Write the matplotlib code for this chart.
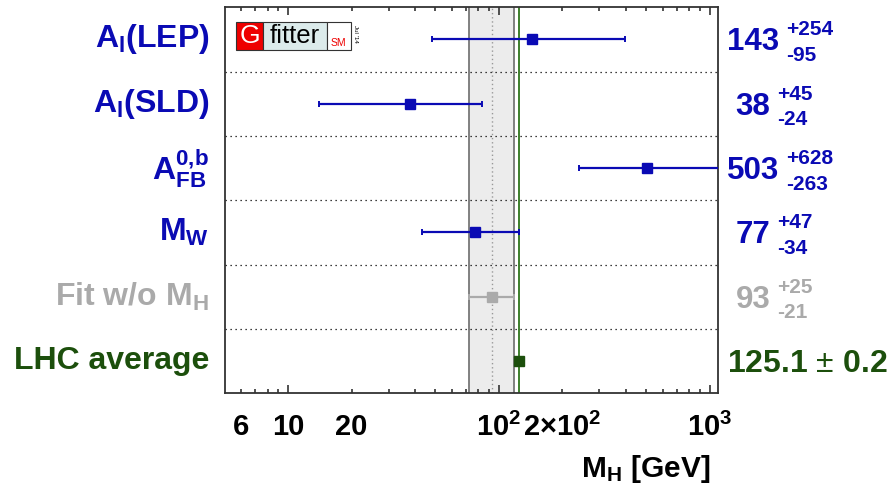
"""
Higgs mass determinations from individual electroweak observables
"""

import matplotlib
matplotlib.use('Agg')
from matplotlib import pyplot as plt
from matplotlib.patches import Rectangle
from matplotlib.ticker import FixedLocator, FuncFormatter

plt.rcParams['font.family'] = ['Liberation Sans', 'DejaVu Sans']
plt.rcParams['mathtext.fontset'] = 'custom'
plt.rcParams['mathtext.rm'] = 'Liberation Sans'
plt.rcParams['mathtext.bf'] = 'Liberation Sans:bold'
plt.rcParams['mathtext.it'] = 'Liberation Sans:italic'

# measurements, top row first
labels = [r'$\mathbf{A_l(LEP)}$', r'$\mathbf{A_l(SLD)}$', r'$\mathbf{A^{0{,}b}_{FB}}$',
          r'$\mathbf{M_W}$', r'$\mathbf{Fit\ w/o\ M_H}$', 'LHC average']
central = [143, 38, 503, 77, 93, 125.1]
err_up = [254, 45, 628, 47, 25, 0.2]
err_down = [95, 24, 263, 34, 21, 0.2]

BLUE = '#0a0ab4'
GREY = '#aaaaaa'
DKGREEN = '#1c4f0c'
colors = [BLUE, BLUE, BLUE, BLUE, GREY, DKGREEN]

# fit without M_H and the LHC value get vertical reference lines
FIT = 4
LHC = 5

# tick labels on the log axis
tick_text = {6: '6', 10: '10', 20: '20', 100: r'$\mathbf{10^2}$',
             200: r'$\mathbf{2{\times}10^2}$', 1000: r'$\mathbf{10^3}$'}

W, H = 895, 493


def fx(px):
	return px / W


def fy(py):
	return 1 - py / H


def draw_logo(fig):
	# little Gfitter badge in the upper left corner
	y0, y1 = fy(50), fy(22.3)
	parts = [(235.7, 263.3, '#ee0000'), (263.3, 326.7, '#dcebeb'), (326.7, 350.7, 'white')]
	for a, b, c in parts:
		fig.patches.append(Rectangle((fx(a), y0), fx(b) - fx(a), y1 - y0, transform=fig.transFigure,
			fc=c, ec='#333333', lw=0.8, zorder=5))
	fig.text(fx(249.5), fy(36), 'G', color='white', fontsize=19, ha='center', va='center', zorder=6)
	fig.text(fx(295), fy(36), 'fitter', color='black', fontsize=18.5, ha='center', va='center', zorder=6)
	fig.text(fx(338.7), fy(43), 'SM', color='#ee0000', fontsize=7.5, ha='center', va='center', zorder=6)
	fig.text(fx(356), fy(34), "Jul '14", color='black', fontsize=4.5, rotation=-90,
		ha='center', va='center', zorder=6)


def create_plot():
	fig = plt.figure(figsize=(W / 100, H / 100), dpi=100)
	ax = fig.add_axes([fx(224.7), fy(393.3), fx(718.3) - fx(224.7), fy(7.3) - fy(393.3)])
	ax.set_xscale('log')
	ax.set_xlim(5, 1100)
	ax.set_ylim(0, len(labels))

	# fit band, fit central value and LHC line
	lo = central[FIT] - err_down[FIT]
	hi = central[FIT] + err_up[FIT]
	ax.axvspan(lo, hi, fc='#ececec', ec='none', zorder=0)
	ax.axvline(lo, color='#777777', lw=1.3, zorder=1)
	ax.axvline(hi, color='#777777', lw=1.3, zorder=1)
	ax.axvline(central[FIT], color='#999999', lw=1.0, ls=(0, (1, 2)), zorder=1)
	ax.axvline(central[LHC], color='#3d7f2c', lw=1.4, zorder=2)

	# row separators
	for k in range(1, len(labels)):
		ax.axhline(k, color='black', lw=0.9, ls=(0, (1, 3)), zorder=1)

	n = len(labels)
	shift = 3.0 / H  # digits sit a touch below the row centre
	for i in range(n):
		y = n - 0.5 - i
		if i == LHC:
			ax.plot(central[i], y, 's', color=DKGREEN, ms=6.8, zorder=4)
		else:
			ax.errorbar(central[i], y, xerr=[[err_down[i]], [err_up[i]]], fmt='s', color=colors[i],
				ms=7.2, lw=1.6, capsize=2.5, capthick=1.4, zorder=3)

		ypos = ax.transData.transform((1, y))[1] / fig.bbox.height

		# label on the left
		fig.text(fx(209), ypos, labels[i],
			color=colors[i], fontsize=23, fontweight='bold', ha='right', va='center')

		# value on the right
		if i == LHC:
			fig.text(fx(727), ypos - shift, '%.1f $\\pm$ %.1f' % (central[i], err_up[i]), color=colors[i],
				fontsize=23, fontweight='bold', ha='left', va='center')
		else:
			main = fig.text(fx(753), ypos - shift, '%d' % central[i], color=colors[i], fontsize=22.5,
				fontweight='bold', ha='center', va='center')
			ax.annotate('+%d' % err_up[i], xy=(1, 0.5), xycoords=main, xytext=(5, 9),
				textcoords='offset points', color=colors[i], fontsize=15, fontweight='bold',
				ha='left', va='center', annotation_clip=False)
			ax.annotate('-%d' % err_down[i], xy=(1, 0.5), xycoords=main, xytext=(5, -9.5),
				textcoords='offset points', color=colors[i], fontsize=15, fontweight='bold',
				ha='left', va='center', annotation_clip=False)

	# axis styling
	ax.set_yticks([])
	for s in ax.spines.values():
		s.set_color('#333333')
		s.set_linewidth(1.3)
	ax.xaxis.set_major_locator(FixedLocator([10, 100, 1000]))
	ax.xaxis.set_minor_locator(FixedLocator([6, 7, 8, 9, 20, 30, 40, 50, 60, 70, 80, 90,
		200, 300, 400, 500, 600, 700, 800, 900]))
	fmt = FuncFormatter(lambda v, p: tick_text.get(int(round(v)), ''))
	ax.xaxis.set_major_formatter(fmt)
	ax.xaxis.set_minor_formatter(fmt)
	ax.tick_params(axis='x', which='both', direction='in', top=True, color='#333333', width=1.2,
		labelsize=21, pad=14)
	ax.tick_params(axis='x', which='major', length=6)
	ax.tick_params(axis='x', which='minor', length=3)
	for t in ax.get_xticklabels(which='both'):
		t.set_fontweight('bold')

	fig.text(fx(710), fy(477), r'$\mathbf{M_H}$ [GeV]', fontsize=21.5, fontweight='bold',
		ha='right', va='baseline')

	draw_logo(fig)
	fig.savefig('out.png', dpi=100)


if __name__ == '__main__':
	create_plot()
